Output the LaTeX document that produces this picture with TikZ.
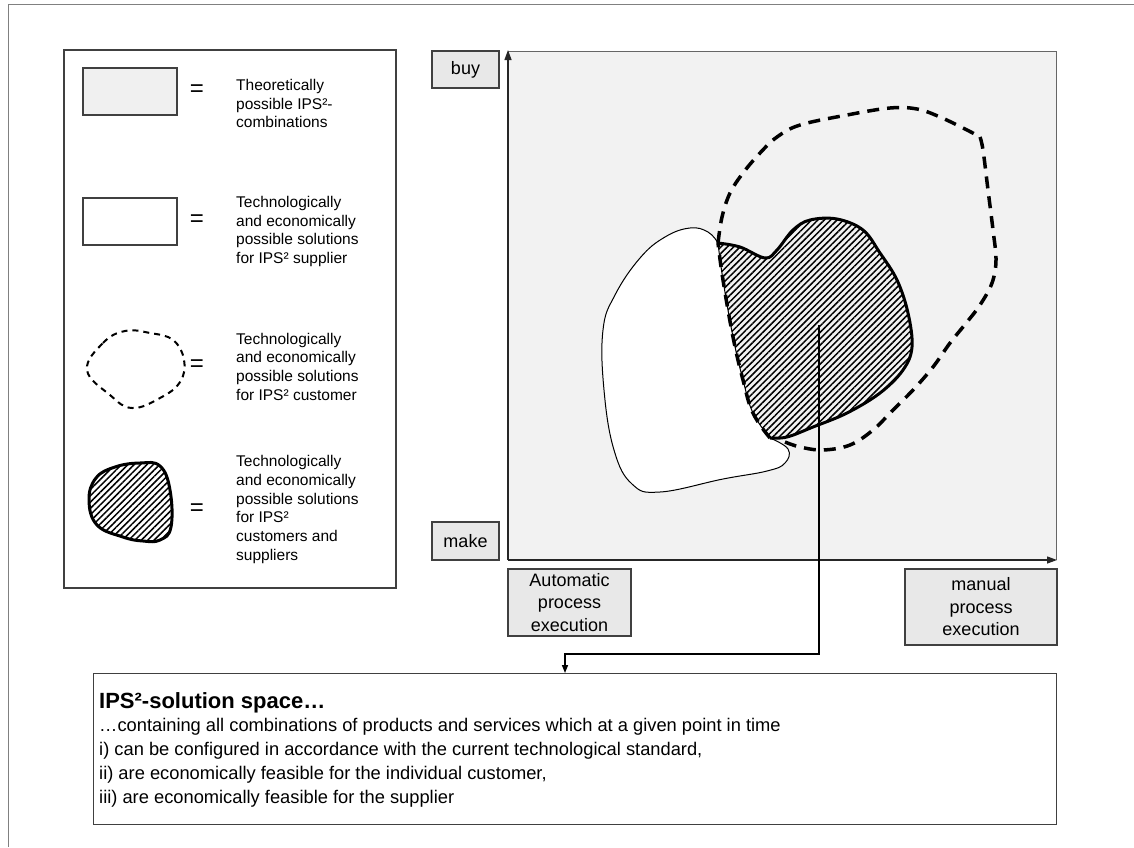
\documentclass[tikz,border=0pt]{standalone}
\usepackage{fontspec}
\setmainfont{Liberation Sans}
\usetikzlibrary{arrows.meta,patterns.meta}

\begin{document}
\begin{tikzpicture}[x=1pt,y=-1pt,
  boxline/.style={draw=black!75,line width=1.2pt},
  label box/.style={boxline,fill=black!9,align=center,inner sep=0pt,
    font=\fontsize{18}{22.5}\selectfont},
  legend text/.style={anchor=west,align=left,inner sep=0pt,
    font=\fontsize{15.5}{18.7}\selectfont},
  equal/.style={inner sep=0pt,font=\fontsize{24}{24}\selectfont},
  hatched/.style={pattern={Lines[angle=45,distance=4.5pt,line width=1.5pt]}},
  customer line/.style={line width=3.5pt,dash pattern=on 12pt off 8pt},
  axis/.style={line width=1.3pt,draw=black!85,-{Triangle[length=10pt,width=7pt]}}]

  \useasboundingbox (0,0) rectangle (1134,847);
  \draw[black!50,line width=1pt] (8,847) -- (8,4) -- (1134,4);

  % legend
  \draw[boxline] (64,50) rectangle (396,588);
  \node[boxline,fill=black!6,minimum width=94pt,minimum height=47pt] (lg1) at (130,91.5) {};
  \node[boxline,fill=white,minimum width=94pt,minimum height=47pt] (lg2) at (130,221.5) {};
  \draw[line width=2pt,dash pattern=on 6pt off 5pt] plot[smooth cycle,tension=.7]
    coordinates {(87,370) (103,343) (125,331) (150,333) (173,340) (184,360)
                 (180,382) (160,398) (132,408) (110,395)};
  \draw[line width=3pt,fill=white] plot[smooth cycle,tension=.7]
    coordinates {(89,500) (96,478) (115,467) (140,463) (160,466) (170,490)
                 (171,527) (160,540) (143,541) (123,537) (97,525)};
  \fill[hatched] plot[smooth cycle,tension=.7]
    coordinates {(89,500) (96,478) (115,467) (140,463) (160,466) (170,490)
                 (171,527) (160,540) (143,541) (123,537) (97,525)};

  \node[equal] (eq1) at (197,91) {=};
  \node[equal] (eq2) at (197,221) {=};
  \node[equal] (eq3) at (197,366) {=};
  \node[equal] (eq4) at (197,510) {=};

  \node[legend text] (t1) at (236,103.5) {Theoretically\\possible IPS²-\\combinations};
  \node[legend text] (t2) at (236,231.5) {Technologically\\and economically\\possible solutions\\for IPS² supplier};
  \node[legend text] (t3) at (236,366.5) {Technologically\\and economically\\possible solutions\\for IPS² customer};
  \node[legend text] (t4) at (236,509.5) {Technologically\\and economically\\possible solutions\\for IPS²\\customers and\\suppliers};

  % solution space
  \fill[black!5] (508,51) rectangle (1056,560);
  \draw[black!60,line width=1pt] (508,51) -- (1056,51) -- (1056,560);
  \coordinate (O) at (508,560);
  \coordinate (ytop) at (508,50);
  \coordinate (xend) at (1057,560);
  \draw[axis] (O) -- (ytop);
  \draw[axis] (O) -- (xend);

  \coordinate (J1) at (718,243);
  \coordinate (J2) at (770,438);

  \fill[white] plot[smooth,tension=.7] coordinates {(J2) (788,449) (785,463) (767,471)
      (723,479) (660,492) (632,484) (614,450) (604,390) (603,330) (615,295)
      (640,258) (665,237) (690,228) (708,232) (J1)}
    -- plot[smooth,tension=.7] coordinates {(J1) (723,280) (733,337) (743,380) (753,413) (J2)}
    -- cycle;
  \draw[line width=1pt] plot[smooth,tension=.7] coordinates {(J2) (788,449) (785,463) (767,471)
      (723,479) (660,492) (632,484) (614,450) (604,390) (603,330) (615,295)
      (640,258) (665,237) (690,228) (708,232) (J1)};

  \fill[hatched] plot[smooth,tension=.6] coordinates {(J1) (740,247) (765,258) (777,250)
      (793,230) (810,220) (837,219) (863,230) (880,253) (897,280) (908,313)
      (912,347) (903,370) (880,393) (847,413) (813,427) (787,437) (J2)}
    -- plot[smooth,tension=.7] coordinates {(J2) (753,413) (743,380) (733,337) (723,280) (J1)}
    -- cycle;
  \draw[line width=3pt] plot[smooth,tension=.6] coordinates {(J1) (740,247) (765,258) (777,250)
      (793,230) (810,220) (837,219) (863,230) (880,253) (897,280) (908,313)
      (912,347) (903,370) (880,393) (847,413) (813,427) (787,437) (J2)};
  \draw[line width=1pt] plot[smooth,tension=.7] coordinates {(J2) (753,413) (743,380) (733,337) (723,280) (J1)};
  \draw[customer line] plot[smooth,tension=.7] coordinates {(J2) (753,413) (743,380) (733,337) (723,280) (J1)};

  \draw[customer line] plot[smooth,tension=.6] coordinates {(J1) (722,217) (730,193)
      (743,173) (760,153) (777,137) (800,125) (847,115) (890,108) (917,109)
      (940,117) (967,130) (980,137)};
  \draw[customer line] plot[smooth,tension=.6] coordinates {(980,137) (983,150) (988,190)
      (993,230) (996,260) (992,283) (980,305) (967,322) (950,343) (933,367)
      (913,390) (893,410) (873,430) (850,445) (823,450) (800,447) (785,442)};

  \node[label box,minimum width=67pt,minimum height=37pt] (buy) at (465.5,69.5) {buy};
  \node[label box,minimum width=67pt,minimum height=38pt] (make) at (465.5,541) {make};
  \node[label box,minimum width=123pt,minimum height=67pt] (auto) at (569.5,602.5)
    {Automatic\\process\\execution};
  \node[label box,minimum width=152pt,minimum height=76pt] (manual) at (981,607)
    {manual\\process\\execution};

  % definition
  \node[boxline,fill=white,anchor=north west,minimum width=963pt,minimum height=151pt,
    inner sep=0pt] (space) at (93,673) {};
  \node[anchor=base west,inner sep=0pt,font=\fontsize{22}{26}\selectfont\bfseries]
    (head) at (99,708) {IPS²-solution space…};
  \node[anchor=north west,align=left,inner sep=0pt,font=\fontsize{18.3}{24}\selectfont]
    (body) at (99,718) {…containing all combinations of products and services which at a given point in time\\
    i) can be configured in accordance with the current technological standard,\\
    ii) are economically feasible for the individual customer,\\
    iii) are economically feasible for the supplier};

  \coordinate (src) at (819,325);
  \coordinate (bend) at (565,654);
  \draw[line width=1.5pt,-{Triangle[length=8pt,width=6pt]}] (src) |- (bend) -- (bend |- space.north);
\end{tikzpicture}
\end{document}
